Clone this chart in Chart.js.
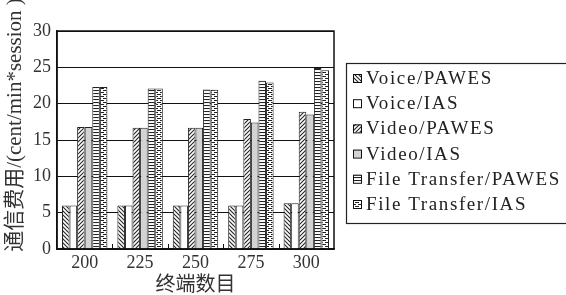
<!DOCTYPE html>
<html><head><meta charset="utf-8">
<script src="https://cdn.jsdelivr.net/npm/chart.js@4/dist/chart.umd.min.js"></script>
<style>html,body{margin:0;padding:0;background:#fff;}canvas{display:block;}</style>
</head><body>
<canvas id="c" width="566" height="295"></canvas>
<script>
const categories = ['200','225','250','275','300'];
const voicePAWES = [6.0, 6.0, 6.0, 6.0, 6.3];
const voiceIAS = [6.0, 6.0, 6.0, 6.0, 6.3];
const videoPAWES = [16.8, 16.7, 16.7, 17.9, 18.9];
const videoIAS = [16.8, 16.7, 16.7, 17.4, 18.5];
const ftPAWES = [22.3, 22.1, 21.95, 23.15, 24.9];
const ftIAS = [22.3, 22.1, 21.9, 22.9, 24.6];
const seriesNames = ['Voice/PAWES','Voice/IAS','Video/PAWES','Video/IAS','File Transfer/PAWES','File Transfer/IAS'];
const yTicks = [0,5,10,15,20,25,30];
const yTitle = '通信费用/(cent/min*session )';
const xTitle = '终端数目';

function mkPattern(kind){
  const c = document.createElement('canvas');
  const ctx = c.getContext('2d');
  let w=4,h=4;
  if(kind==='horiz'){w=4;h=3;}
  if(kind==='brick'){w=6;h=4;}
  c.width=w;c.height=h;
  ctx.fillStyle='#fff';ctx.fillRect(0,0,w,h);
  ctx.strokeStyle='#222';ctx.lineWidth=1.1;
  ctx.beginPath();
  if(kind==='back'){
    for(let k=-1;k<=1;k++){ctx.moveTo(-1+k*w,-1);ctx.lineTo(w+1+k*w,h+1);}
  } else if(kind==='fwd'){
    for(let k=-1;k<=1;k++){ctx.moveTo(-1+k*w,h+1);ctx.lineTo(w+1+k*w,-1);}
  } else if(kind==='horiz'){
    ctx.moveTo(0,0.5);ctx.lineTo(w,0.5);
  } else if(kind==='brick'){
    ctx.moveTo(0,0.5);ctx.lineTo(2,0.5);
    ctx.moveTo(4,0.5);ctx.lineTo(6,0.5);
    ctx.moveTo(1,2.5);ctx.lineTo(5,2.5);
  }
  ctx.stroke();
  return ctx.createPattern(c,'repeat');
}
const fills = [mkPattern('back'), '#ffffff', mkPattern('fwd'), '#d3d3d3', mkPattern('horiz'), mkPattern('brick')];
const values = [voicePAWES, voiceIAS, videoPAWES, videoIAS, ftPAWES, ftIAS];

const serif = '"Liberation Serif", "Noto Sans CJK SC", serif';

const framePlugin = {
  id:'frame',
  afterDatasetsDraw(chart){
    const {ctx, chartArea:a, scales:{x}} = chart;
    ctx.save();
    ctx.strokeStyle='#111';ctx.lineWidth=1.5;
    ctx.strokeRect(a.left, a.top, a.right-a.left, a.bottom-a.top);
    ctx.lineWidth=1;
    for(let i=0;i<categories.length-1;i++){
      const px = Math.round((x.getPixelForTick(i)+x.getPixelForTick(i+1))/2)+0.5;
      ctx.beginPath();ctx.moveTo(px,a.bottom);ctx.lineTo(px,a.bottom-5);ctx.stroke();
    }
    ctx.restore();
  },
  afterDraw(chart){
    const ctx = chart.ctx;
    const a = chart.chartArea;
    // y axis title
    ctx.save();
    ctx.translate(15, 125);
    ctx.rotate(-Math.PI/2);
    ctx.font = '21px ' + serif;
    ctx.fillStyle = '#333';
    ctx.textAlign = 'center';
    ctx.textBaseline = 'middle';
    ctx.fillText(yTitle, 0, 0);
    ctx.restore();
    // legend
    const boxLeft = a.right + 12, boxTop = 63, rowH = 25.2, first = 78;
    ctx.save();
    ctx.strokeStyle='#222';ctx.lineWidth=1.2;
    ctx.strokeRect(boxLeft+0.5, boxTop+0.5, 300, 160);
    chart.data.datasets.forEach((ds,i)=>{
      const cy = first + i*rowH;
      ctx.fillStyle = ds.backgroundColor;
      ctx.fillRect(boxLeft+7, cy-4, 8, 8);
      ctx.strokeStyle='#111';ctx.lineWidth=1;
      ctx.strokeRect(boxLeft+7.5, cy-3.5, 8, 8);
      ctx.fillStyle='#222';
      ctx.font = '19px ' + serif;
      ctx.letterSpacing = '1.6px';
      ctx.textBaseline='middle';
      ctx.textAlign='left';
      ctx.fillText(ds.label, boxLeft+20, cy+1);
    });
    ctx.restore();
  }
};

new Chart(document.getElementById('c'), {
  type:'bar',
  data:{
    labels: categories,
    datasets: seriesNames.map((n,i)=>({
      label:n, data: values[i], backgroundColor: fills[i],
      borderColor:'#222', borderWidth:1, borderSkipped:'bottom'
    }))
  },
  options:{
    responsive:false, animation:false,
    layout:{padding:{left:0,top:31,right:232,bottom:0}},
    datasets:{bar:{categoryPercentage:0.82, barPercentage:1.0}},
    plugins:{
      tooltip:{enabled:false},
      legend:{display:false}
    },
    scales:{
      x:{
        grid:{display:false, drawTicks:false},
        border:{color:'#111', width:1.5},
        ticks:{font:{family:serif,size:18}, color:'#333', padding:3},
        title:{display:true, text:xTitle, font:{family:serif,size:20,lineHeight:0.8}, color:'#333', padding:{top:0,bottom:1}},
        afterFit(s){ s.height = 46; }
      },
      y:{
        min:0, max:30,
        afterBuildTicks(s){ s.ticks = yTicks.map(v=>({value:v})); },
        grid:{color:'#111', lineWidth:1, drawTicks:false},
        border:{color:'#111', width:1.5},
        ticks:{font:{family:serif,size:18}, color:'#333', padding:6},
        title:{display:false},
        afterFit(s){ s.width = 57; }
      }
    }
  },
  plugins:[framePlugin]
});
</script>
</body></html>
